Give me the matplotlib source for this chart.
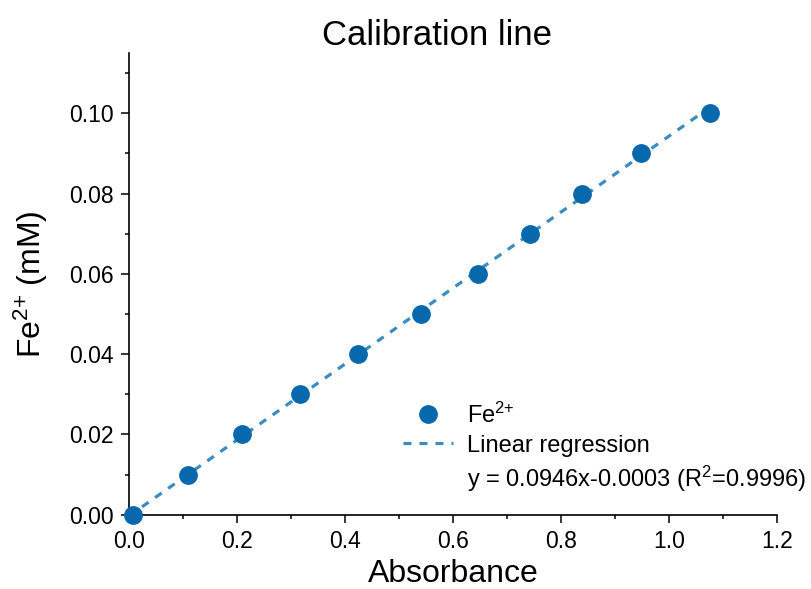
import numpy as np
import matplotlib
matplotlib.use("Agg")
import matplotlib.pyplot as plt
from matplotlib.lines import Line2D
from matplotlib.ticker import MultipleLocator, FormatStrFormatter

plt.rcParams['font.family'] = ['Liberation Sans', 'DejaVu Sans']
plt.rcParams['mathtext.fontset'] = 'custom'
plt.rcParams['mathtext.rm'] = 'Liberation Sans'
plt.rcParams['mathtext.it'] = 'Liberation Sans:italic'

# data
absorbance = [0.007, 0.109, 0.209, 0.317, 0.424, 0.541, 0.646, 0.743, 0.839, 0.948, 1.076]
fe_conc = [0.00, 0.01, 0.02, 0.03, 0.04, 0.05, 0.06, 0.07, 0.08, 0.09, 0.10]
slope = 0.0946
intercept = -0.0003
r2 = 0.9996

point_color = '#0868ac'
line_color = '#3a8cc4'

fig = plt.figure(figsize=(8.11, 5.89), dpi=100)
ax = fig.add_axes([0.159, 0.126, 0.799, 0.784])

# regression line
xfit = np.array([0.0, max(absorbance)])
ax.plot(xfit, slope * xfit + intercept, color=line_color, lw=2.3,
        dashes=(2.5, 2.5), zorder=2, clip_on=False)
ax.plot(absorbance, fe_conc, 'o', color=point_color, ms=12.5, zorder=3, clip_on=False)

ax.set_xlim(0, 1.2)
ax.set_ylim(0, 0.115)
ax.xaxis.set_major_locator(MultipleLocator(0.2))
ax.xaxis.set_minor_locator(MultipleLocator(0.1))
ax.yaxis.set_major_locator(MultipleLocator(0.02))
ax.yaxis.set_minor_locator(MultipleLocator(0.01))
ax.xaxis.set_major_formatter(FormatStrFormatter('%.1f'))
ax.yaxis.set_major_formatter(FormatStrFormatter('%.2f'))

for s in ['top', 'right']:
    ax.spines[s].set_visible(False)
for s in ['left', 'bottom']:
    ax.spines[s].set_linewidth(1.2)
ax.tick_params(which='major', direction='out', length=6, width=1.1, labelsize=16.5, pad=5)
ax.tick_params(which='minor', direction='out', length=3, width=1.1)

ax.set_title('Calibration line', fontsize=25, pad=6, x=0.475)
ax.set_xlabel('Absorbance', fontsize=23, labelpad=4)
ax.set_ylabel(r'Fe$^{\mathregular{2{+}}}$ (mM)', fontsize=23, labelpad=14)

handles = [
    Line2D([], [], marker='o', ls='none', color=point_color, ms=12.5),
    Line2D([], [], color=line_color, lw=2.3, dashes=(2.5, 2.5)),
    Line2D([], [], ls='none'),
]
labels = [
    r'Fe$^{\mathregular{2{+}}}$',
    'Linear regression',
    'y = %.4fx%.4f (R$^{\mathregular{2}}$=%.4f)' % (slope, intercept, r2),
]
ax.legend(handles, labels, loc='lower left', bbox_to_anchor=(0.4, 0.012),
          frameon=False, fontsize=17, handlelength=2.1, handletextpad=0.6,
          labelspacing=0.3, borderaxespad=0.25)

fig.savefig('out.png', dpi=100)
